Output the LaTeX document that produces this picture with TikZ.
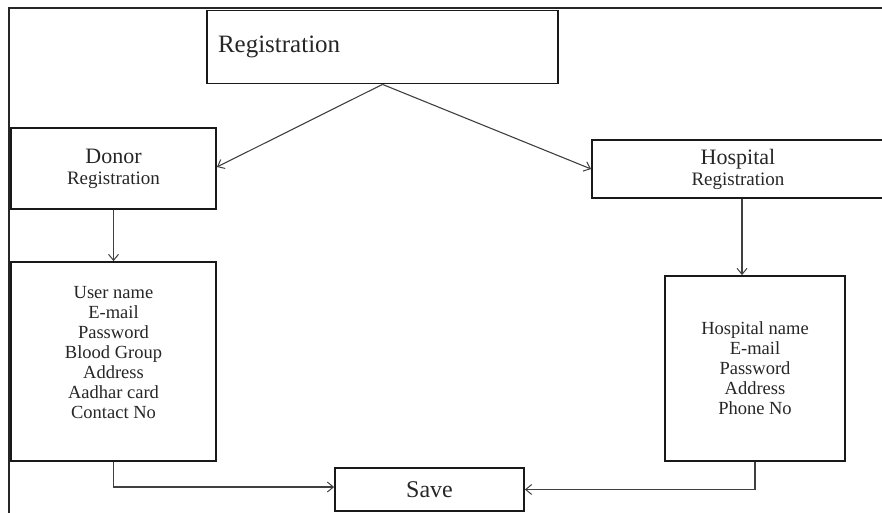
\documentclass[tikz,border=0pt]{standalone}
\usepackage{fontspec}
\setmainfont{Liberation Serif}
\usetikzlibrary{arrows.meta,calc}
\begin{document}
\begin{tikzpicture}[x=1pt,y=-1pt,
  box/.style={draw=black!90,line width=1.8pt,rectangle,inner sep=0pt,text=black!85,align=center},
  twoline/.style={box,font=\fontsize{19}{21}\selectfont},
  conn/.style={draw=black!75,line width=1.1pt},
  arr/.style={conn,-{Straight Barb[length=6pt,width=10pt,line width=1pt]}},
  frame/.style={draw=black!85,line width=1.5pt}]
\useasboundingbox (0,0) rectangle (882,513);
% outer frame
\coordinate (fbl) at (9,514);
\coordinate (ftl) at (9,8);
\coordinate (ftr) at (883,8);
\draw[frame] (fbl) -- (ftl) -- (ftr);
% nodes
\node[box,minimum width=351pt,minimum height=73pt,text width=329pt,align=left,
  font=\fontsize{25}{28}\selectfont] (reg) at (382.5,47) {Registration};
\node[twoline,minimum width=205pt,minimum height=81pt] (donor) at (113.5,168.5)
  {{\fontsize{22}{22}\selectfont Donor}\\{\fontsize{19}{21}\selectfont Registration}};
\node[twoline,minimum width=292pt,minimum height=58pt] (hosp) at (738,169)
  {{\fontsize{22}{22}\selectfont Hospital}\\{\fontsize{19}{21}\selectfont Registration}};
\node[box,minimum width=205pt,minimum height=199pt,font=\fontsize{18.5}{20}\selectfont] (user) at (113.5,361.5)
  {User name\\E-mail\\Password\\Blood Group\\Address\\Aadhar card\\Contact No\rule[-18pt]{0pt}{18pt}};
\node[box,minimum width=180pt,minimum height=185pt,font=\fontsize{18.5}{20}\selectfont] (hinfo) at (755,368.5)
  {Hospital name\\E-mail\\Password\\Address\\Phone No};
\node[box,minimum width=189pt,minimum height=43pt,font=\fontsize{24}{26}\selectfont] (save) at (429.5,489.5) {Save};
% connectors
\draw[arr] (reg.south) -- ([yshift=1.5pt]donor.east);
\draw[arr] (reg.south) -- (hosp.west);
\draw[arr] (donor.south) -- (user.north);
\draw[arr] ([xshift=4pt]hosp.south) -- ([xshift=4pt]hosp.south |- hinfo.north);
\draw[arr] (user.south) |- ([yshift=2.5pt]save.west);
\draw[arr] (hinfo.south) |- (save.east);
\end{tikzpicture}
\end{document}
